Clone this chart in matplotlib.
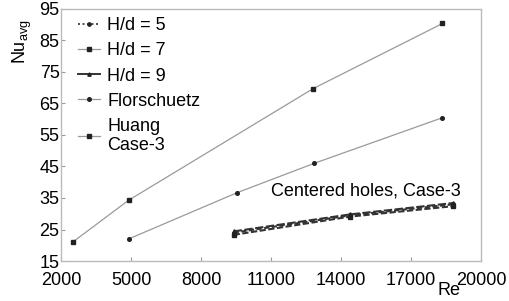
import matplotlib
matplotlib.use("Agg")
import matplotlib.pyplot as plt
from matplotlib.lines import Line2D

plt.rcParams['font.family'] = ['Liberation Sans', 'DejaVu Sans']

# centered holes, Case-3
re_c = [9400, 14400, 18800]
nu_hd5 = [24.0, 29.5, 33.0]
nu_hd7 = [23.3, 29.1, 32.4]
nu_hd9 = [24.4, 29.8, 33.4]

re_flor = [4900, 9550, 12850, 18350]
nu_flor = [22.0, 36.7, 46.0, 60.5]

re_huang = [2500, 4900, 12800, 18350]
nu_huang = [21.0, 34.3, 69.7, 90.4]

xticks = [2000, 5000, 8000, 11000, 14000, 17000, 20000]
yticks = [15, 25, 35, 45, 55, 65, 75, 85, 95]

fs = 13
fig = plt.figure(figsize=(5.10, 3.01), dpi=100)
ax = fig.add_axes([61 / 510, 1 - 261 / 301, 420 / 510, 252 / 301])

gray = "#9a9a9a"
dark = "#222222"
ax.plot(re_huang, nu_huang, color=gray, lw=0.9, marker="s", ms=3.2,
        mfc=dark, mec=dark)
ax.plot(re_flor, nu_flor, color=gray, lw=0.9, marker="o", ms=2.6,
        mfc=dark, mec=dark)
ax.plot(re_c, nu_hd5, color="#333333", lw=1.5, ls=(0, (2.5, 1.2)), marker="o",
        ms=2.6, mfc=dark, mec=dark)
ax.plot(re_c, nu_hd7, color="#333333", lw=1.5, ls=(0, (3, 1.2)), marker="s",
        ms=3.4, mfc=dark, mec=dark)
ax.plot(re_c, nu_hd9, color="#333333", lw=1.5, ls=(0, (4, 1.2)), marker="^",
        ms=2.6, mfc=dark, mec=dark)

ax.text(11000, 37.2, "Centered holes, Case-3", fontsize=fs, va="center")

ax.set_xlim(2000, 20000)
ax.set_ylim(15, 95)
ax.set_xticks(xticks)
ax.set_yticks(yticks)
ax.tick_params(direction="in", length=3, color=gray, labelsize=fs)
ax.tick_params(axis="y", pad=1)
ax.tick_params(axis="x", pad=8)
for s in ax.spines.values():
    s.set_color("#bbbbbb")
    s.set_linewidth(1.0)

ax.set_ylabel("Nu$_{\\mathregular{avg}}$", fontsize=fs, labelpad=0)
ax.yaxis.set_label_coords(-0.065, 0.87)
ax.set_xlabel("Re", fontsize=fs, labelpad=0)
ax.xaxis.set_label_coords(0.925, -0.085)

handles = [
    Line2D([], [], color="#333333", ls=(0, (1.2, 1.5)), lw=1.2, marker="o", ms=2.4,
           mfc=dark, mec=dark),
    Line2D([], [], color=gray, lw=0.9, marker="s", ms=3.4, mfc=dark, mec=dark),
    Line2D([], [], color="#333333", lw=1.4, marker="^", ms=2.4, mfc=dark, mec=dark),
    Line2D([], [], color=gray, lw=0.9, marker="o", ms=2.6, mfc=dark, mec=dark),
    Line2D([], [], color=gray, lw=0.9, marker="s", ms=3.4, mfc=dark, mec=dark),
]
labels = ["H/d = 5", "H/d = 7", "H/d = 9", "Florschuetz", "Huang\nCase-3"]
ax.legend(handles, labels, loc="upper left", frameon=False, fontsize=fs,
          handlelength=1.2, handletextpad=0.4, labelspacing=0.45,
          borderaxespad=0.2, bbox_to_anchor=(0.015, 1.01))

fig.savefig("out.png", dpi=100)
